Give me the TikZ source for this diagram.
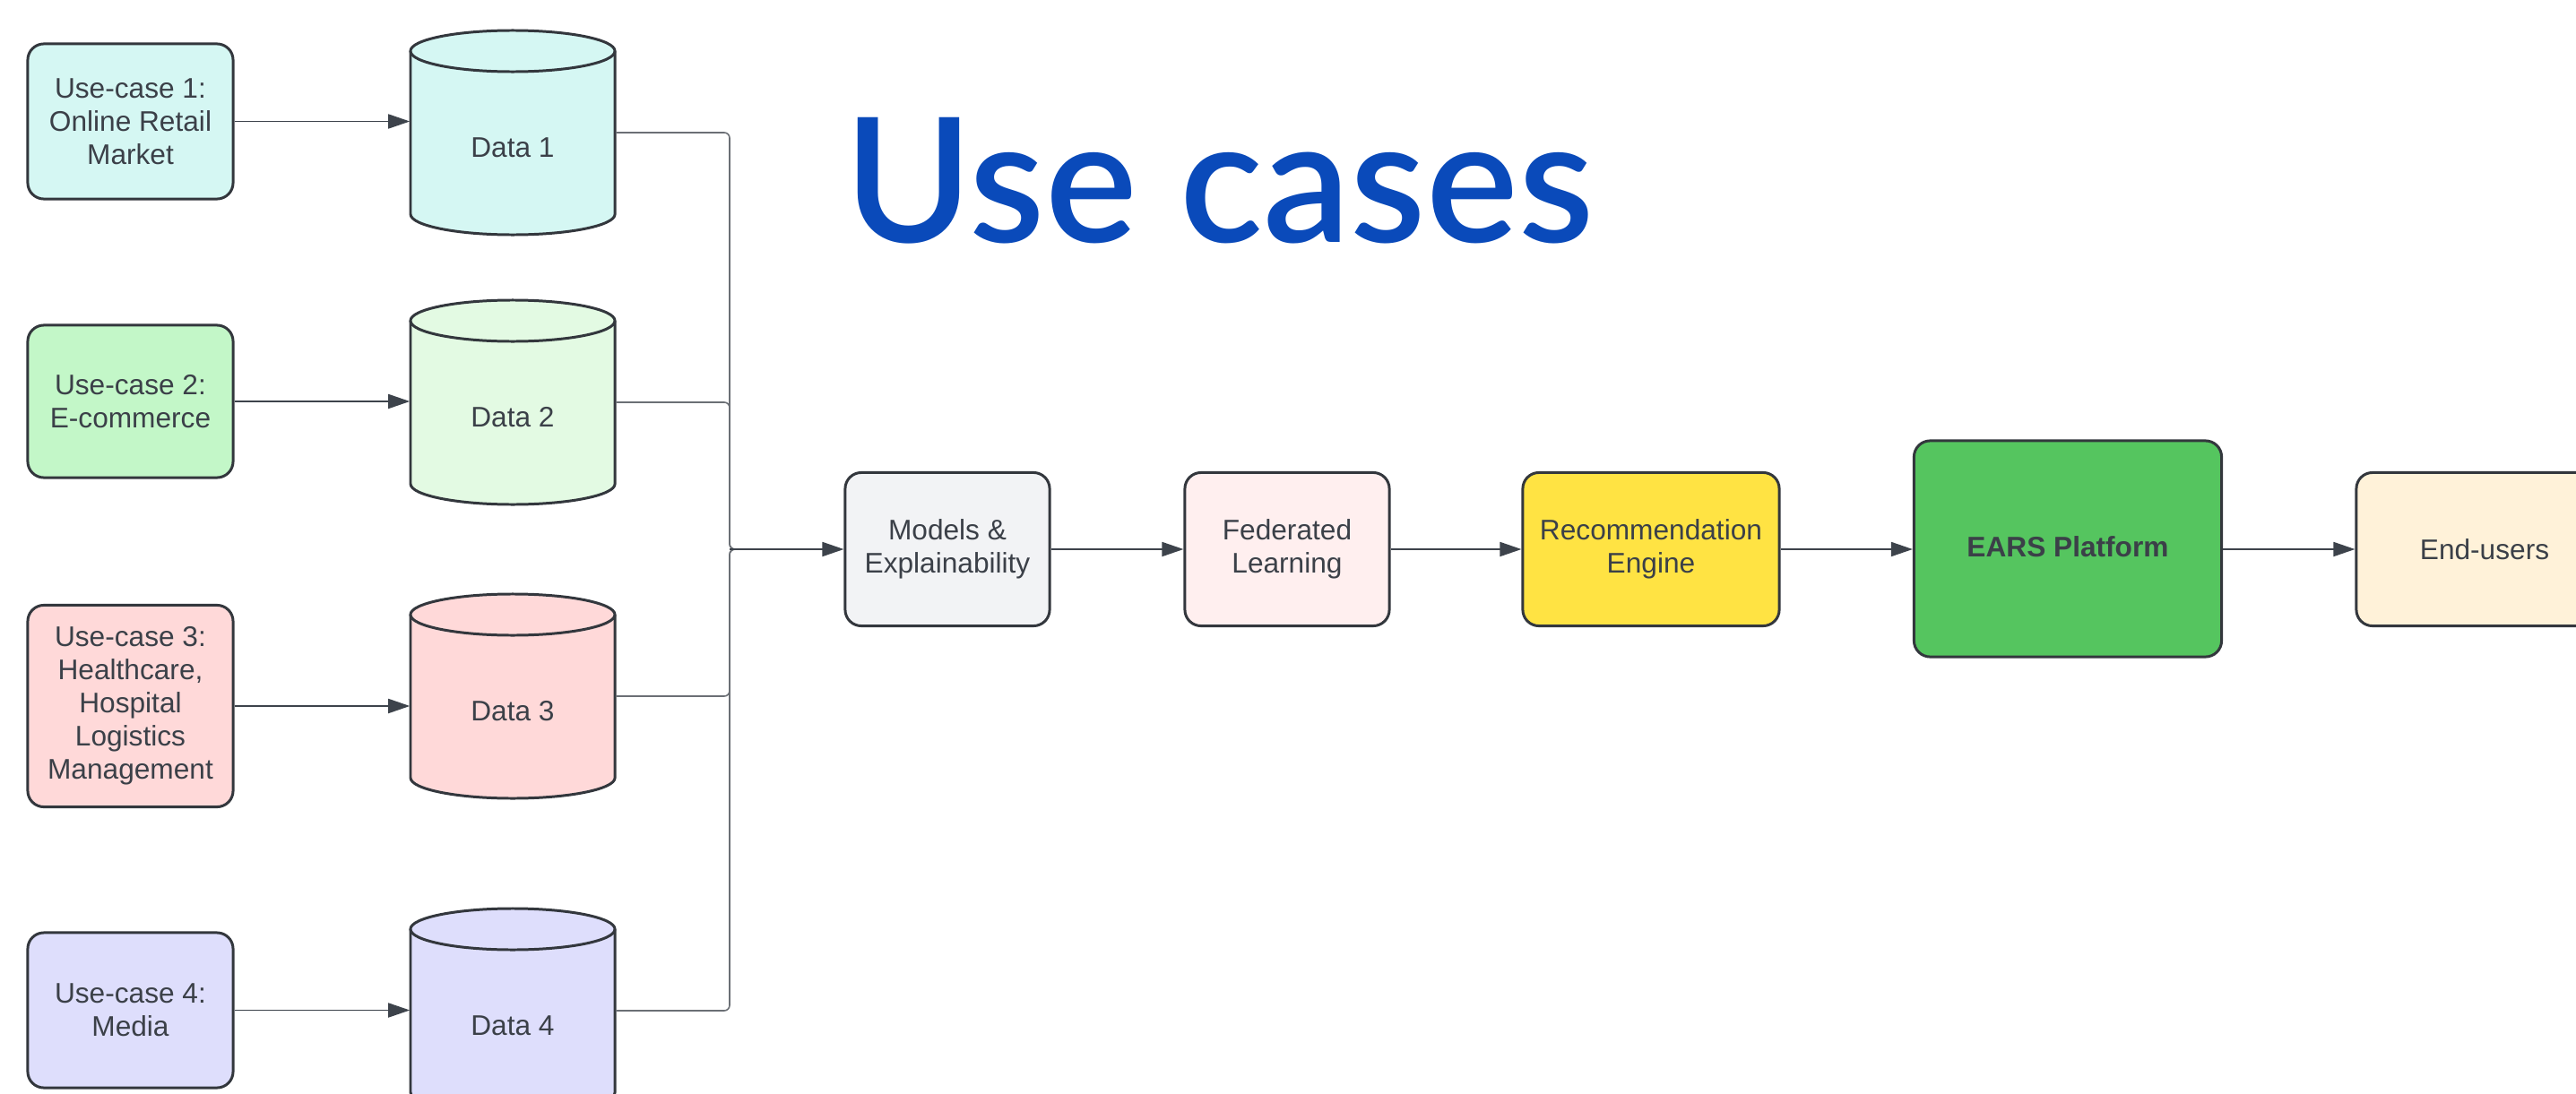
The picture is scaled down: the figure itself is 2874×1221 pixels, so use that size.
\documentclass[tikz,border=0pt]{standalone}
\usepackage{fontspec}
\setmainfont{Liberation Sans}
\newfontfamily\titlefont{Lato}[UprightFont={* Semibold}]
\usetikzlibrary{arrows.meta}
\definecolor{txtgray}{HTML}{3B4048}
\definecolor{boxline}{HTML}{33373D}
\definecolor{arrline}{HTML}{3D434B}
\definecolor{busgray}{HTML}{6B6F75}
\definecolor{titleblue}{HTML}{0A4ABA}
\definecolor{cone}{HTML}{D5F7F3}
\definecolor{ctwou}{HTML}{C3F7C8}
\definecolor{ctwod}{HTML}{E3FAE3}
\definecolor{cthree}{HTML}{FFD9D9}
\definecolor{cfour}{HTML}{DEDEFC}
\definecolor{cmodels}{HTML}{F2F3F5}
\definecolor{cfed}{HTML}{FFEFEF}
\definecolor{crec}{HTML}{FFE343}
\definecolor{cears}{HTML}{55C55F}
\definecolor{cend}{HTML}{FFF2D9}
\tikzset{
  txtstyle/.style={text=txtgray, align=center, inner sep=0pt, font=\fontsize{9}{10.5}\selectfont},
  box/.style={txtstyle, draw=boxline, line width=0.85pt, rounded corners=0.18cm},
  ucbox/.style={box, minimum width=2.29cm},
  flowbox/.style={box, minimum height=1.71cm},
  cylline/.style={draw=boxline, line width=0.85pt},
  arr/.style={draw=arrline, line width=0.5pt, -{Triangle[length=0.24cm,width=0.16cm]}},
  busl/.style={draw=busgray, line width=0.45pt, rounded corners=0.06cm},
}
\newcommand\mycylinder[5]{%
  \fill[#4] ({#2-114},{#3+23}) -- ({#2-114},{#3+205})
     arc[start angle=180,end angle=360,x radius=1.14cm,y radius=0.23cm]
     -- ({#2+114},{#3+23})
     arc[start angle=0,end angle=180,x radius=1.14cm,y radius=0.23cm] -- cycle;
  \draw[cylline] ({#2-114},{#3+23}) -- ({#2-114},{#3+205})
     arc[start angle=180,end angle=360,x radius=1.14cm,y radius=0.23cm]
     -- ({#2+114},{#3+23});
  \draw[cylline] (#2,{#3+23}) ellipse[x radius=1.14cm,y radius=0.23cm];
  \node[minimum width=2.28cm, minimum height=1.82cm, inner sep=0pt] (#1) at (#2,{#3+114}) {};
  \node[txtstyle] (#1t) at (#2,{#3+131}) {#5};
}
\begin{document}
\begin{tikzpicture}[x=0.01cm,y=-0.01cm]
\clip (0,0) rectangle (2874,1221);
\fill[white] (0,0) rectangle (2874,1221);

% title
\node[anchor=base west, inner sep=0pt, text=titleblue,
      font=\titlefont\fontsize{55}{58}\selectfont] (title) at (942,270) {Use cases};

% use cases
\node[ucbox, fill=cone, minimum height=1.73cm] (u1) at (145.5,135.5) {Use-case 1:\\Online Retail\\Market};
\node[ucbox, fill=ctwou, minimum height=1.70cm] (u2) at (145.5,448) {Use-case 2:\\E-commerce};
\node[ucbox, fill=cthree, minimum height=2.25cm] (u3) at (145.5,788) {Use-case 3:\\Healthcare,\\Hospital\\Logistics\\Management};
\node[ucbox, fill=cfour, minimum height=1.73cm] (u4) at (145.5,1127.5) {Use-case 4:\\Media};

% data stores
\mycylinder{d1}{572}{34}{cone}{Data 1}
\mycylinder{d2}{572}{335}{ctwod}{Data 2}
\mycylinder{d3}{572}{663}{cthree}{Data 3}
\mycylinder{d4}{572}{1014}{cfour}{Data 4}

% pipeline
\node[flowbox, fill=cmodels, minimum width=2.28cm] (m) at (1057,613) {Models \&\\Explainability};
\node[flowbox, fill=cfed, minimum width=2.28cm] (f) at (1436,613) {Federated\\Learning};
\node[flowbox, fill=crec, minimum width=2.86cm] (r) at (1842,613) {Recommendation\\Engine};
\node[box, fill=cears, minimum width=3.43cm, minimum height=2.41cm, font=\bfseries\fontsize{9}{10.5}\selectfont] (e) at (2307,612.5) {\raisebox{0.05cm}{EARS Platform}};
\node[flowbox, fill=cend, minimum width=2.86cm] (eu) at (2772,613) {End-users};

% use case -> data
\draw[arr] (u1.east) -- (u1.east -| d1.west);
\draw[arr] (u2.east) -- (u2.east -| d2.west);
\draw[arr] (u3.east) -- (u3.east -| d3.west);
\draw[arr] (u4.east) -- (u4.east -| d4.west);

% bus
\coordinate (bus) at (814,613);
\coordinate (busout) at (850,613);
\draw[busl] (d1.east) -- (d1.east -| bus) -- (bus) -- (busout);
\draw[busl] (d2.east) -- (d2.east -| bus) -- (bus) -- (busout);
\draw[busl] (d3.east) -- (d3.east -| bus) -- (bus) -- (busout);
\draw[busl] (d4.east) -- (d4.east -| bus) -- (bus) -- (busout);
\draw[arr] (bus) -- (m.west);

% pipeline arrows
\draw[arr] (m.east) -- (f.west);
\draw[arr] (f.east) -- (r.west);
\draw[arr] (r.east) -- (e.west |- r.east);
\draw[arr] (e.east |- eu.west) -- (eu.west);
\end{tikzpicture}
\end{document}
